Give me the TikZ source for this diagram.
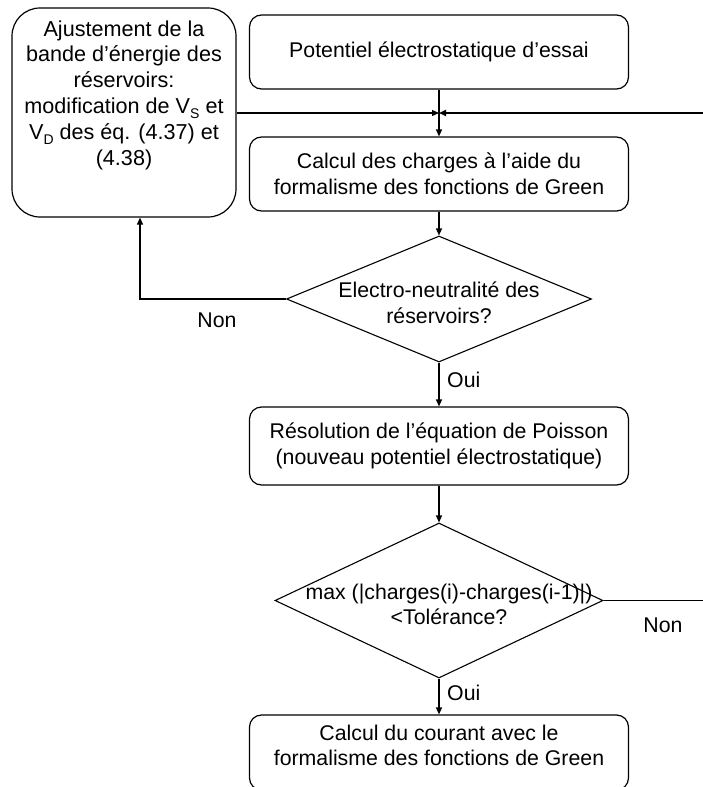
\documentclass[tikz,border=0pt]{standalone}
\usepackage{fontspec}
\setmainfont{Liberation Sans}
\usetikzlibrary{shapes.geometric,arrows.meta}
\tikzset{
  box/.style={draw, line width=1.2pt, rounded corners=12pt, minimum width=379pt, align=center, inner sep=0pt, font=\fontsize{21.3}{25.5}\selectfont},
  dia/.style={draw, line width=1.1pt, diamond, inner sep=0pt},
  txt/.style={align=center, inner sep=0pt, font=\fontsize{21.3}{25.5}\selectfont},
  conn/.style={line width=1.2pt, -{Triangle[length=7pt,width=6pt]}},
  plain/.style={line width=1.2pt},
  lbl/.style={font=\fontsize{21.3}{25}\selectfont, inner sep=0pt}
}
\newcommand{\subtxt}[1]{\raisebox{-0.25em}{\fontsize{14}{14}\selectfont #1}}
\begin{document}
\begin{tikzpicture}[x=1pt,y=-1pt]
\useasboundingbox (0,0) rectangle (703,787);
\begin{scope}
\clip (0,0) rectangle (703,787);
\node[box, minimum height=74pt] (top) at (439,52) {Potentiel électrostatique d’essai};
\node[box, minimum height=74pt] (calc) at (439,174) {Calcul des charges à l’aide du\\formalisme des fonctions de Green};
\node[box, rounded corners=28pt, minimum width=224pt, minimum height=209pt] (adj) at (124,112.5) {};
\node[txt, font=\fontsize{21.6}{25.8}\selectfont] (adjtxt) at (124,95)
  {Ajustement de la\\bande d’énergie des\\réservoirs:\\modification de V\subtxt{S} et\\V\subtxt{D} des éq. (4.37) et\\(4.38)};
\node[dia, minimum width=305pt, minimum height=126pt] (d1) at (439,299) {};
\node[txt] (d1txt) at (439,303) {Electro-neutralité des\\réservoirs?};
\node[box, minimum height=78pt] (pois) at (439,446) {Résolution de l’équation de Poisson\\(nouveau potentiel électrostatique)};
\node[dia, minimum width=328pt, minimum height=155pt] (d2) at (439,600.5) {};
\node[txt] (d2txt) at (449,604.5) {max (|charges(i)-charges(i-1)|)\\<Tolérance?};
\node[box, minimum height=75pt] (cour) at (439,752.5) {};
\node[txt] (courtxt) at (439,745.5) {Calcul du courant avec le\\formalisme des fonctions de Green};

\coordinate (J) at (439,113);
\coordinate (R1) at (704,600.5);
\coordinate (R2) at (704,113);
\coordinate (K) at (140,299);

\draw[plain] (top.south) -- (J);
\draw[conn] (J) -- (calc.north);
\draw[conn] (adj.east |- J) -- (J);
\draw[conn, line width=1.6pt] (R2) -- (J);
\draw[conn] (calc.south) -- (d1.north);
\draw[conn] (d1.west) -- (K) -- (adj.south -| K);
\draw[conn] (d1.south) -- (pois.north);
\draw[conn] (pois.south) -- (d2.north);
\draw[plain] (d2.east) -- (R1);
\draw[conn] (d2.south) -- (cour.north);

\node[lbl] (non1) at (217,320) {Non};
\node[lbl, anchor=west] (oui1) at (447,380) {Oui};
\node[lbl] (non2) at (663,625) {Non};
\node[lbl, anchor=west] (oui2) at (447,693) {Oui};
\end{scope}
\end{tikzpicture}
\end{document}
